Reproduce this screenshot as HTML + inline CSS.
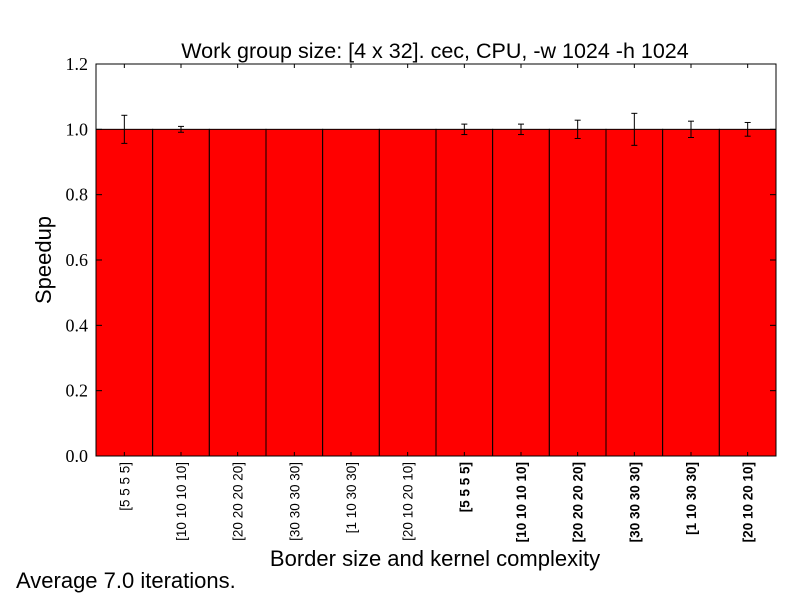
<!DOCTYPE html>
<html><head><meta charset="utf-8"><style>
body{margin:0;background:#fff}
svg text{font-family:"Liberation Sans","DejaVu Sans",sans-serif}
svg text.serif{font-family:"Liberation Serif","DejaVu Serif",serif}
</style></head><body>
<svg id="chart" width="800" height="600" xmlns="http://www.w3.org/2000/svg">
<rect width="800" height="600" fill="#fff"/>
<text x="435" y="58" font-size="21.5" text-anchor="middle">Work group size: [4 x 32]. cec, CPU, -w 1024 -h 1024</text>
<g id="bars"></g>
<g id="errs"></g>
<rect x="96" y="64" width="680" height="392" fill="none" stroke="#000" stroke-width="1"/>
<g id="yticks"></g>
<g id="xlabels"></g>
<text x="0" y="0" transform="translate(51,260) rotate(-90)" font-size="22" text-anchor="middle">Speedup</text>
<text x="435" y="566" font-size="22" text-anchor="middle">Border size and kernel complexity</text>
<text x="16" y="588" font-size="22">Average 7.0 iterations.</text>
</svg>
<script>
const categories=["[5 5 5 5]","[10 10 10 10]","[20 20 20 20]","[30 30 30 30]","[1 10 30 30]","[20 10 20 10]","[5 5 5 5]","[10 10 10 10]","[20 20 20 20]","[30 30 30 30]","[1 10 30 30]","[20 10 20 10]"];
const boldLabels=[false,false,false,false,false,false,true,true,true,true,true,true];
const values=[1,1,1,1,1,1,1,1,1,1,1,1];
const errors=[0.043,0.009,0,0,0,0,0.016,0.016,0.028,0.049,0.025,0.021];
const yTicks=[0,0.2,0.4,0.6,0.8,1.0,1.2];
const yTickLabels=["0.0","0.2","0.4","0.6","0.8","1.0","1.2"];
const NS="http://www.w3.org/2000/svg";
const x0=96,x1=776,y0=456,y1=64,ymax=1.2;
const bw=(x1-x0)/categories.length;
const X=i=>x0+i*bw;
const Y=v=>y0-(v/ymax)*(y0-y1);
function mk(t,a,p){const e=document.createElementNS(NS,t);for(const k in a)e.setAttribute(k,a[k]);p.appendChild(e);return e;}
const gb=document.getElementById('bars'),ge=document.getElementById('errs'),gy=document.getElementById('yticks'),gx=document.getElementById('xlabels');
categories.forEach((c,i)=>{
  const r=mk('rect',{x:X(i),y:Y(values[i]),width:bw,height:y0-Y(values[i]),fill:'#ff0000',stroke:'#000','stroke-width':1},gb);
  
  
  const cx=X(i)+bw/2;
  if(errors[i]>0){
    const g=mk('g',{stroke:'#000','stroke-width':1},ge);
    
    
    const ya=Y(values[i]+errors[i]),yb=Y(values[i]-errors[i]);
    mk('line',{x1:cx,x2:cx,y1:ya,y2:yb},g);
    mk('line',{x1:cx-3,x2:cx+3,y1:ya,y2:ya},g);
    mk('line',{x1:cx-3,x2:cx+3,y1:yb,y2:yb},g);
  }
  const t=mk('text',{transform:`translate(${cx+5},462) rotate(-90)`,'font-size':13.5,'text-anchor':'end','font-weight':boldLabels[i]?'bold':'normal'},gx);
  t.textContent=c;
  
  
  mk('line',{x1:cx,x2:cx,y1:y0,y2:y0-4,stroke:'#000'},gx);
  mk('line',{x1:cx,x2:cx,y1:y1,y2:y1+4,stroke:'#000'},gx);
});
yTicks.forEach((v,i)=>{
  const y=Y(v);
  mk('line',{x1:x0,x2:x0+6,y1:y,y2:y,stroke:'#000'},gy);
  mk('line',{x1:x1,x2:x1-6,y1:y,y2:y,stroke:'#000'},gy);
  const t=mk('text',{x:88,y:y+6,'font-size':18,'text-anchor':'end','class':'serif'},gy);
  t.textContent=yTickLabels[i];
  
  
});
</script>
</body></html>
